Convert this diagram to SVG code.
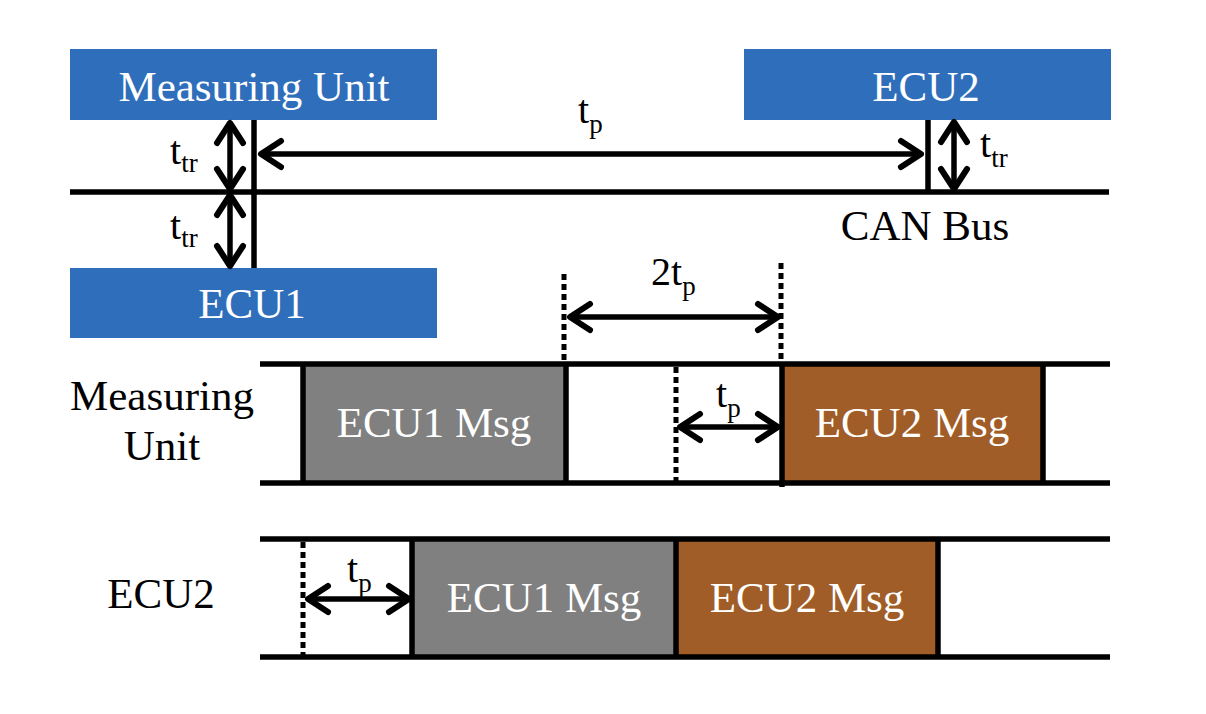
<svg xmlns="http://www.w3.org/2000/svg" width="1206" height="714" viewBox="0 0 1206 714">
  <style>
    .txt { font-family: "Liberation Serif", "Times New Roman", serif; font-size: 43px; fill: #000; }
    .wt { fill: #ffffff; }
    .mid { text-anchor: middle; }
    .lbl { font-family: "Liberation Serif", "Times New Roman", serif; font-size: 40px; fill: #000; }
    .sub { font-size: 27px; }
    .blue { fill: #2F6EBA; }
    .gray { fill: #808080; }
    .brown { fill: #A15D27; }
    .ln { stroke: #000; stroke-width: 5.5; fill: none; }
    .dot { stroke: #000; stroke-width: 5; fill: none; stroke-dasharray: 6 4; }
    .arr { stroke: #000; stroke-width: 5.5; fill: none; marker-start: url(#head); marker-end: url(#head); }
  </style>
  <defs>
    <marker id="head" viewBox="-26 -16 30 32" refX="0" refY="0" markerWidth="30" markerHeight="32" markerUnits="userSpaceOnUse" orient="auto-start-reverse" overflow="visible">
      <path d="M-20,-13 L0,0 L-20,13" fill="none" stroke="#000" stroke-width="6" stroke-linecap="round" stroke-linejoin="round"/>
    </marker>
  </defs>
  <rect width="1206" height="714" fill="#ffffff"/>

  <g id="measuring-unit">
    <rect class="blue" x="70" y="49" width="367" height="71"/>
    <text class="txt wt mid" x="254" y="101">Measuring Unit</text>
  </g>
  <g id="ecu1">
    <rect class="blue" x="70" y="268" width="367" height="70"/>
    <text class="txt wt mid" x="252" y="318">ECU1</text>
  </g>
  <g id="ecu2">
    <rect class="blue" x="744" y="49" width="367" height="71"/>
    <text class="txt wt mid" x="926" y="101">ECU2</text>
  </g>
  <g id="can-bus">
    <line class="ln" x1="70" y1="192" x2="1109" y2="192"/>
    <text class="txt mid" x="925" y="240">CAN Bus</text>
  </g>

  <g id="row-measuring-unit">
    <text class="txt mid" x="162" y="410">Measuring</text>
    <text class="txt mid" x="162" y="460">Unit</text>
    <g id="mu-ecu1-msg">
      <rect class="gray" x="303" y="364" width="263" height="119"/>
      <text class="txt wt mid" x="434" y="437">ECU1 Msg</text>
    </g>
    <g id="mu-ecu2-msg">
      <rect class="brown" x="782" y="364" width="261" height="119"/>
      <text class="txt wt mid" x="912" y="437">ECU2 Msg</text>
    </g>
    <line class="ln" x1="260" y1="364" x2="1110" y2="364"/>
    <line class="ln" x1="260" y1="483" x2="1110" y2="483"/>
    <line class="ln" x1="303" y1="364" x2="303" y2="483"/>
    <line class="ln" x1="566" y1="364" x2="566" y2="483"/>
    <line class="ln" x1="782" y1="364" x2="782" y2="487"/>
    <line class="ln" x1="1043" y1="364" x2="1043" y2="483"/>
  </g>

  <g id="row-ecu2">
    <text class="txt mid" x="161" y="608">ECU2</text>
    <g id="ecu2-ecu1-msg">
      <rect class="gray" x="412" y="539" width="264" height="118"/>
      <text class="txt wt mid" x="544" y="612">ECU1 Msg</text>
    </g>
    <g id="ecu2-ecu2-msg">
      <rect class="brown" x="676" y="539" width="262" height="118"/>
      <text class="txt wt mid" x="807" y="612">ECU2 Msg</text>
    </g>
    <line class="ln" x1="260" y1="539" x2="1110" y2="539"/>
    <line class="ln" x1="260" y1="657" x2="1110" y2="657"/>
    <line class="ln" x1="412" y1="539" x2="412" y2="657"/>
    <line class="ln" x1="676" y1="539" x2="676" y2="657"/>
    <line class="ln" x1="938" y1="539" x2="938" y2="657"/>
  </g>

  <g id="connectors">
    <line class="ln" x1="254" y1="120" x2="254" y2="268"/>
    <line class="ln" x1="928" y1="120" x2="928" y2="192"/>
    <line class="arr" x1="230" y1="123" x2="230" y2="189"/>
    <line class="arr" x1="230" y1="195" x2="230" y2="266"/>
    <line class="arr" x1="954" y1="122" x2="954" y2="189"/>
    <line class="arr" x1="261" y1="154" x2="921" y2="154"/>
    <line class="dot" x1="564" y1="274" x2="564" y2="360"/>
    <line class="dot" x1="781" y1="263" x2="781" y2="360"/>
    <line class="arr" x1="570" y1="317" x2="778" y2="317"/>
    <line class="dot" x1="676" y1="367" x2="676" y2="481"/>
    <line class="arr" x1="680" y1="427" x2="778" y2="427"/>
    <line class="dot" x1="303" y1="542" x2="303" y2="661"/>
    <line class="arr" x1="308" y1="599" x2="409" y2="599"/>
  </g>

  <g id="labels">
    <text class="lbl" x="170" y="164">t<tspan class="sub" dy="8">tr</tspan></text>
    <text class="lbl" x="170" y="239">t<tspan class="sub" dy="8">tr</tspan></text>
    <text class="lbl" x="980" y="157">t<tspan class="sub" dy="10">tr</tspan></text>
    <text class="lbl" x="578" y="123">t<tspan class="sub" dy="10">p</tspan></text>
    <text class="lbl" x="651" y="285">2t<tspan class="sub" dy="10">p</tspan></text>
    <text class="lbl" x="716" y="407">t<tspan class="sub" dy="10">p</tspan></text>
    <text class="lbl" x="347" y="582">t<tspan class="sub" dy="10">p</tspan></text>
  </g>
</svg>
